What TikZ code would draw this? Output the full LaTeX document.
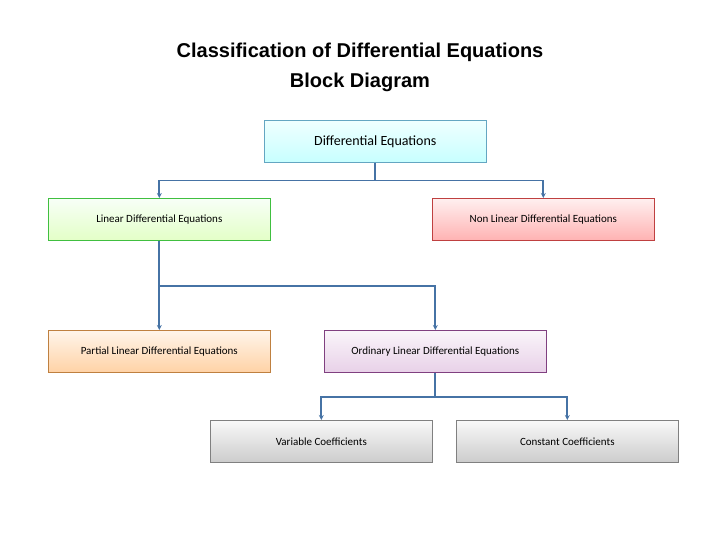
\documentclass[tikz,border=0pt]{standalone}
\usetikzlibrary{arrows.meta}
\usepackage{fontspec}
\setmainfont{Carlito}
\newfontfamily\titlefont{Liberation Sans}
\begin{document}
\begin{tikzpicture}[x=1pt,y=-1pt,
  blk/.style={draw=#1!50!gray, line width=0.6pt, minimum width=222pt, minimum height=42pt, inner sep=0pt, anchor=north west, font=\fontsize{11}{13}\selectfont},
  conn/.style={draw={rgb,255:red,70;green,115;blue,165}, line width=1.8pt},
  arr/.style={conn,-{Stealth[length=5pt,width=5pt]}}]
\useasboundingbox (0,0) rectangle (720,540);
\node[font=\titlefont\bfseries\fontsize{20}{30}\selectfont, align=center] (title) at (360,67) {Classification of Differential Equations\\Block Diagram};
\node[blk=cyan, top color=cyan!6, bottom color=cyan!22, font=\fontsize{14}{16}\selectfont] (de) at (264,120) {Differential Equations};
\node[blk=green, top color=green!3!white, bottom color=green!50!yellow!22] (lin) at (48,198) {Linear Differential Equations};
\node[blk=red, top color=red!6, bottom color=red!30] (non) at (432,198) {Non Linear Differential Equations};
\node[blk=orange, top color=orange!8, bottom color=orange!35] (par) at (48,330) {Partial Linear Differential Equations};
\node[blk=violet, top color=violet!4, bottom color=violet!18] (ord) at (324,330) {Ordinary Linear Differential Equations};
\node[blk=gray, top color=gray!5, bottom color=gray!40] (var) at (210,420) {Variable Coefficients};
\node[blk=gray, top color=gray!5, bottom color=gray!40] (con) at (456,420) {Constant Coefficients};
\draw[conn] (de.south) -- ++(0,18) coordinate (j1);
\draw[arr] (j1) -| (lin.north);
\draw[arr] (j1) -| (non.north);
\draw[arr] (lin.south) -- (par.north);
\draw[arr] (lin.south) -- ++(0,45) -| (ord.north);
\draw[conn] (ord.south) -- ++(0,24) coordinate (j2);
\draw[arr] (j2) -| (var.north);
\draw[arr] (j2) -| (con.north);
\end{tikzpicture}
\end{document}
